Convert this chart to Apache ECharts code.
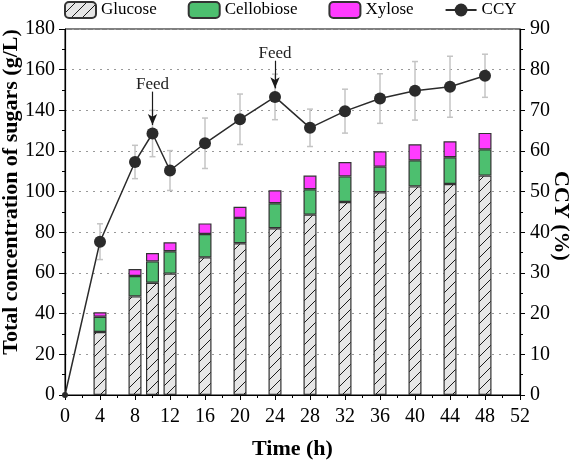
<!DOCTYPE html>
<html>
<head>
<meta charset="utf-8">
<script src="https://cdn.jsdelivr.net/npm/echarts@6/dist/echarts.min.js"></script>
<style>
  html, body { margin: 0; padding: 0; background: #fff; }
  #chart { width: 575px; height: 462px; }
</style>
</head>
<body>
<div id="chart"></div>
<script>
// sugars (g/L), sampled at these times
const barTimes = [4, 8, 10, 12, 16, 20, 24, 28, 32, 36, 40, 44, 48]
const glucose = [31, 48.5, 55.2, 59.7, 67.7, 74.6, 82, 88.7, 94.9, 99.7, 102.6, 103.8, 107.9]
const cellobiose = [7.5, 10, 10.5, 11, 11.5, 12.5, 12.3, 12.5, 12.6, 12.6, 12.8, 13.1, 12.9]
const xylose = [2.2, 3.5, 4.1, 4.4, 5.2, 5.5, 6.4, 6.7, 7.1, 7.6, 7.9, 7.9, 8.1]

// CCY (%) with its standard deviation
const ccyTimes = [0, 4, 8, 10, 12, 16, 20, 24, 28, 32, 36, 40, 44, 48]
const ccy = [0, 37.7, 57.3, 64.3, 55.2, 61.9, 67.8, 73.3, 65.7, 69.8, 72.9, 74.8, 75.8, 78.5]
const ccyErr = [0, 4.4, 4.1, 5.7, 4.9, 6.2, 6.2, 5.6, 4.6, 5.4, 6.1, 7.2, 7.5, 5.3]

// feed arrows: time, arrow tail, arrow tip (CCY scale)
const feedTimes = [10, 24]
const feedFrom = [74.6, 82.2]
const feedTo = [66.4, 75.4]

const legendNames = ['Glucose', 'Cellobiose', 'Xylose', 'CCY']
const leftTitle = 'Total concentration of sugars (g/L)'
const rightTitle = 'CCY (%)'

const font = 'Liberation Serif'

// hatch for the glucose bars
const hatch = (() => {
  const c = document.createElement('canvas')
  const s = 11
  c.width = s
  c.height = s
  const ctx = c.getContext('2d')
  ctx.fillStyle = '#e6e6e6'
  ctx.fillRect(0, 0, s, s)
  ctx.strokeStyle = '#1a1a1a'
  ctx.lineWidth = 1
  ctx.beginPath()
  ctx.moveTo(-1, s + 1)
  ctx.lineTo(s + 1, -1)
  ctx.moveTo(-2, 1)
  ctx.lineTo(1, -2)
  ctx.moveTo(s - 1, s + 2)
  ctx.lineTo(s + 2, s - 1)
  ctx.stroke()
  return c
})()

// value first so the stack runs on y, time second
const barData = (ys) => ys.map((y, i) => [y, barTimes[i]])

const barBase = {
  type: 'bar',
  stack: 'sugar',
  barWidth: 13,
  z: 2,
  encode: { x: 1, y: 0 },
}

const nameFont = 'bold 22px "Liberation Serif"'

const chart = echarts.init(document.getElementById('chart'))
const option = {
  backgroundColor: '#fff',
  animation: false,
  textStyle: { fontFamily: font },
  legend: {
    data: legendNames,
    left: 59,
    top: -4,
    itemWidth: 31,
    itemHeight: 16,
    itemGap: 31,
    textStyle: { fontFamily: font, fontSize: 17, color: '#000' },
  },
  // vertical axis titles
  graphic: [
    {
      type: 'text',
      x: 11,
      y: 192,
      rotation: Math.PI / 2,
      style: { text: leftTitle, font: nameFont, fill: '#000', align: 'center', verticalAlign: 'middle' },
    },
    {
      type: 'text',
      x: 561,
      y: 216,
      rotation: -Math.PI / 2,
      style: { text: rightTitle, font: nameFont, fill: '#000', align: 'center', verticalAlign: 'middle' },
    },
  ],
  grid: {
    left: 65,
    right: 55,
    top: 29,
    bottom: 67,
    containLabel: false,
    outerBoundsMode: 'none',
    show: true,
    borderColor: '#000',
    borderWidth: 1,
  },
  xAxis: {
    type: 'value',
    min: 0,
    max: 52,
    interval: 4,
    name: 'Time (h)',
    nameLocation: 'middle',
    nameGap: 43,
    nameTextStyle: { fontFamily: font, fontSize: 22, fontWeight: 'bold', color: '#000' },
    axisLine: { onZero: false, lineStyle: { color: '#000', width: 1.2 } },
    axisTick: { length: 5, lineStyle: { color: '#000' } },
    minorTick: { show: true, splitNumber: 2, length: 3, lineStyle: { color: '#000' } },
    axisLabel: { fontFamily: font, fontSize: 20, color: '#000', margin: 12 },
    splitLine: { show: false },
  },
  yAxis: [
    {
      type: 'value',
      min: 0,
      max: 180,
      interval: 20,
      axisLine: { show: true, lineStyle: { color: '#000', width: 1.2 } },
      axisTick: { length: 6, lineStyle: { color: '#000' } },
      minorTick: { show: true, splitNumber: 2, length: 3, lineStyle: { color: '#000' } },
      axisLabel: { fontFamily: font, fontSize: 20, color: '#000', margin: 10 },
      splitLine: { lineStyle: { color: '#999', type: [2, 5], width: 1 } },
    },
    {
      type: 'value',
      position: 'right',
      min: 0,
      max: 90,
      interval: 10,
      axisLine: { show: true, lineStyle: { color: '#000', width: 1.2 } },
      axisTick: { length: 5, lineStyle: { color: '#000' } },
      minorTick: { show: true, splitNumber: 2, length: 3, lineStyle: { color: '#000' } },
      axisLabel: { fontFamily: font, fontSize: 20, color: '#000', margin: 10 },
      splitLine: { show: false },
    },
  ],
  series: [
    Object.assign({}, barBase, {
      name: 'Glucose',
      itemStyle: { color: { image: hatch, repeat: 'repeat' }, borderColor: '#333', borderWidth: 1.2 },
      data: barData(glucose),
    }),
    Object.assign({}, barBase, {
      name: 'Cellobiose',
      itemStyle: { color: '#4dbf6f', borderColor: '#333', borderWidth: 1.2 },
      data: barData(cellobiose),
    }),
    Object.assign({}, barBase, {
      name: 'Xylose',
      itemStyle: { color: '#ff3cff', borderColor: '#333', borderWidth: 1.2 },
      data: barData(xylose),
    }),
    {
      name: 'errors',
      type: 'custom',
      yAxisIndex: 1,
      z: 3,
      encode: { x: 0, y: [1, 2] },
      data: ccyTimes
        .map((t, i) => [t, ccy[i] - ccyErr[i], ccy[i] + ccyErr[i]])
        .filter((d) => d[2] > d[1]),
      renderItem: (params, api) => {
        const lo = api.coord([api.value(0), api.value(1)])
        const hi = api.coord([api.value(0), api.value(2)])
        const w = 3
        const style = { stroke: '#c4c4c4', lineWidth: 1.5 }
        return {
          type: 'group',
          children: [
            { type: 'line', shape: { x1: lo[0], y1: lo[1], x2: hi[0], y2: hi[1] }, style },
            { type: 'line', shape: { x1: lo[0] - w, y1: lo[1], x2: lo[0] + w, y2: lo[1] }, style },
            { type: 'line', shape: { x1: hi[0] - w, y1: hi[1], x2: hi[0] + w, y2: hi[1] }, style },
          ],
        }
      },
    },
    {
      name: 'CCY',
      type: 'line',
      yAxisIndex: 1,
      z: 4,
      symbol: 'circle',
      symbolSize: 12,
      color: '#2b2b2b',
      lineStyle: { color: '#2b2b2b', width: 1.5 },
      itemStyle: { color: '#2b2b2b' },
      data: ccyTimes.map((t, i) =>
        i === 0 ? { value: [t, ccy[i]], symbolSize: 6 } : [t, ccy[i]]
      ),
      markLine: {
        silent: true,
        symbol: ['none', 'arrow'],
        symbolSize: [7, 11],
        lineStyle: { color: '#1a1a1a', width: 1.2, type: 'solid' },
        label: {
          show: true,
          position: 'start',
          distance: -1,
          formatter: 'Feed',
          fontFamily: font,
          fontSize: 17,
          color: '#222',
        },
        data: feedTimes.map((t, i) => [
          { coord: [t, feedFrom[i]] },
          { coord: [t, feedTo[i]] },
        ]),
      },
    },
  ],
}
chart.setOption(option)
</script>
</body>
</html>
